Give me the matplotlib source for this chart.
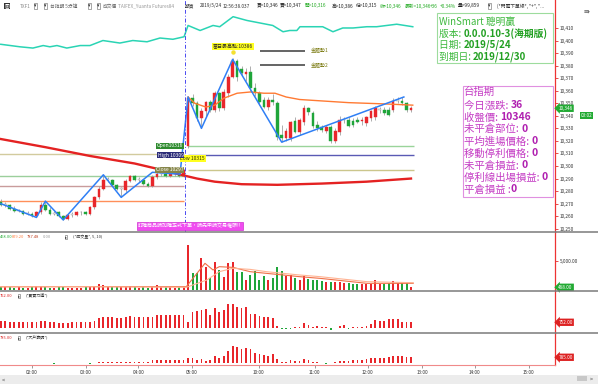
import numpy as np
import matplotlib.pyplot as plt
from matplotlib.lines import Line2D
from matplotlib.patches import Rectangle
from matplotlib.text import Annotation

plt.rcParams['font.family'] = ['Noto Sans CJK TC', 'DejaVu Sans']

W, H = 598, 384

# 5 min bars: night session (p 0-41) then day session 08:45-12:55 (p 42-92)
opens = [10271, 10269, 10269, 10266, 10264, 10264, 10262, 10262, 10260, 10263,
         10269, 10265, 10262, 10263, 10260, 10258, 10261, 10261, 10263, 10263,
         10262, 10267, 10275, 10282, 10289, 10289, 10285, 10282, 10281, 10288,
         10292, 10289, 10289, 10286, 10284, 10291, 10294, 10294, 10292, 10294,
         10294, 10292,
         10316, 10354, 10350, 10338, 10344, 10351, 10345, 10358, 10346, 10358,
         10371, 10384, 10377, 10373, 10375, 10362, 10358, 10353, 10347, 10353,
         10350, 10325, 10322, 10322, 10336, 10327, 10335, 10346, 10342, 10333,
         10331, 10328, 10331, 10320, 10327, 10337, 10337, 10336, 10337, 10336,
         10334, 10338, 10339, 10345, 10345, 10345, 10345, 10352, 10352, 10350,
         10345]
highs = [10274, 10271, 10270, 10268, 10266, 10265, 10264, 10263, 10264, 10271,
         10272, 10267, 10264, 10264, 10261, 10262, 10263, 10264, 10264, 10264,
         10268, 10276, 10284, 10293, 10291, 10290, 10286, 10283, 10290, 10293,
         10293, 10291, 10290, 10287, 10293, 10296, 10296, 10295, 10295, 10295,
         10295, 10298,
         10356, 10357, 10352, 10346, 10352, 10353, 10360, 10359, 10361, 10373,
         10386, 10385, 10380, 10378, 10380, 10366, 10360, 10355, 10355, 10357,
         10352, 10333, 10330, 10336, 10339, 10338, 10349, 10347, 10344, 10336,
         10333, 10333, 10333, 10330, 10340, 10339, 10339, 10338, 10339, 10339,
         10340, 10345, 10348, 10347, 10347, 10347, 10354, 10355, 10355, 10351,
         10348]
lows = [10268, 10267, 10265, 10263, 10263, 10261, 10261, 10259, 10259, 10262,
        10264, 10261, 10261, 10259, 10257, 10257, 10259, 10260, 10261, 10261,
        10261, 10266, 10274, 10281, 10287, 10284, 10281, 10275, 10279, 10287,
        10288, 10287, 10285, 10283, 10283, 10290, 10292, 10291, 10291, 10292,
        10291, 10291,
        10314, 10348, 10336, 10330, 10340, 10343, 10343, 10344, 10345, 10355,
        10370, 10368, 10372, 10368, 10360, 10356, 10349, 10346, 10345, 10349,
        10321, 10319, 10320, 10320, 10326, 10325, 10333, 10341, 10330, 10328,
        10327, 10326, 10318, 10318, 10325, 10334, 10331, 10331, 10334, 10333,
        10332, 10336, 10337, 10342, 10341, 10340, 10343, 10350, 10349, 10343,
        10343]
closes = [10269, 10269, 10266, 10264, 10264, 10262, 10262, 10260, 10263, 10269,
          10265, 10262, 10262, 10260, 10258, 10261, 10261, 10263, 10263, 10262,
          10267, 10275, 10282, 10289, 10289, 10285, 10282, 10282, 10288, 10292,
          10289, 10289, 10286, 10284, 10291, 10294, 10294, 10292, 10294, 10294,
          10292, 10297,
          10354, 10350, 10338, 10344, 10351, 10345, 10358, 10346, 10359, 10371,
          10384, 10371, 10374, 10375, 10362, 10358, 10351, 10347, 10353, 10351,
          10323, 10322, 10328, 10335, 10327, 10337, 10346, 10343, 10332, 10330,
          10329, 10331, 10320, 10328, 10337, 10337, 10332, 10333, 10335, 10337,
          10339, 10344, 10346, 10345, 10342, 10341, 10352, 10352, 10350, 10345,
          10346]

volume = [520, 480, 560, 400, 450, 380, 420, 500, 610, 650,
          560, 430, 380, 450, 520, 400, 380, 360, 420, 450,
          520, 760, 950, 820, 600, 520, 480, 450, 560, 610,
          480, 420, 460, 380, 520, 900, 560, 480, 450, 420,
          520, 600,
          7760, 2900, 2900, 5500, 4020, 2070, 4890, 3450, 2300, 4600,
          4780, 3100, 3100, 1720, 2650, 3250, 1720, 2500, 1720, 2000,
          3960, 3250, 2500, 2650, 2000,
          1720, 2500, 1830, 1720, 1720, 1600, 1400, 1400, 1400, 1400,
          1230, 1230, 1000, 1000, 1000, 1000, 1000, 1720, 1000, 1000,
          1200, 1600, 1230, 1230, 1230, 468]

# 買賣力道
power = [958, 958, 833, 750, 750, 750, 750, 792, 792, 917,
         917, 792, 750, 667, 667, 667, 750, 750, 833, 833,
         833, 917, 1250, 1375, 1375, 1375, 1292, 1292, 1417, 1500,
         1458, 1417, 1417, 1458, 1458, 1625, 1625, 1625, 1625, 1667,
         1667, 1667,
         833, 2083, 2208, 2292, 2375, 1667, 2583, 2083, 2292, 3042,
         3042, 2708, 2500, 2625, 1792, 1792, 1542, 1375, 1375, 1250,
         292, -100, -120, -60, 208,
         208, 625, 417, 208, 292, 208, 208, -208, 83, 292,
         417, -100, 208, 208, 208, 292, 500, 1042, 917, 917,
         1125, 1167, 1125, 833, 833, 752]

# 大戶籌碼
big_hands = [90, 90, 80, 90, 90, 80, 90, 90, 80, 90,
             90, 80, -60, 80, 90, 90, 80, 90, 90, 80,
             -60, 90, 217, 217, 217, 217, 217, 217, 217, 217,
             217, 217, 217, 217, 433, 433, 433, 433, 433, 433,
             433, 433,
             737, 737, 433, 520, 303, 433, 953, 650, 953, 1647,
             2253, 2167, 1820, 1950, 1820, 1387, 1213, 1083, 953, 1213,
             520, 130, 217, 433, 303,
             303, 563, 433, 217, 130, 87, -87, 30, 217, 347,
             347, 347, 433, 433, 433, 520, 650, 737, 737, 737,
             867, 953, 953, 953, 867, 785]

zigzag_x = [0, 8, 10, 14, 23, 27, 34, 40.2, 42, 45, 52, 63, 90.4]
zigzag_y = [10270, 10259, 10272, 10257, 10293, 10275, 10295, 10293.5,
            10355, 10330, 10385, 10319, 10355]

ma_long_x = [0, 10, 20, 30, 36, 41, 44, 48, 54, 62, 72, 82, 92]
ma_long_y = [10321.5, 10315, 10308, 10302, 10297, 10292.5, 10290, 10287.5,
             10285.5, 10285, 10286, 10287.5, 10290]

ma_day_x = [42, 43.5, 46, 48, 50, 53, 56, 59, 61.5, 64, 67, 78, 86, 92.4]
ma_day_y = [10355, 10350, 10347, 10348.5, 10354, 10358, 10359, 10358, 10358,
            10355, 10353, 10350.5, 10349.5, 10348.5]

cyan_x = [0, 4.3, 7.2, 9.5, 11, 12.6, 14.8, 17.8, 20, 22.9, 26.7, 29.6, 32.8,
          35.7, 38.6, 41.1, 42, 44.7, 47.6, 49.1, 52.1, 55.2, 58.1, 61, 63.3,
          64.8, 66.4, 67.1, 70, 72.2, 74.5, 76.7, 79, 82.1, 84.3, 88.8, 92.4]
cyan_y = [10397, 10395, 10394, 10396, 10395, 10396, 10394, 10396, 10396, 10400,
          10398, 10400, 10399, 10402, 10401, 10403, 10412, 10408, 10412, 10411,
          10419, 10416, 10414, 10412, 10407, 10408, 10408, 10411, 10411, 10411,
          10407, 10410, 10410, 10411, 10411, 10413, 10411]

vol_ma5_x = [0, 20, 41.6, 45.8, 47.6, 49, 52.1, 55.9, 59.6, 63.3, 67, 71.6, 82.1, 92.5]
vol_ma5_y = [560, 580, 575, 4600, 3450, 4020, 3900, 3160, 2870, 2590, 2300, 2010, 1150, 1150]
vol_ma10_x = [0, 20, 41.6, 46.2, 49, 52, 55.9, 59.6, 63.3, 67, 71.6, 82.1, 92.5]
vol_ma10_y = [540, 560, 460, 1720, 3160, 3740, 3560, 3160, 2870, 2590, 2300, 1440, 1260]

night_levels = [10309.5, 10292, 10284, 10272]
night_colors = ['#d2cb9e', '#9ccf9c', '#c99c9c', '#ff8f5a']
day_levels = [10316, 10309, 10297]
day_colors = ['#9ad49a', '#5a5ab4', '#cbc68c']

trend_levels = [10392, 10380.5]
trend_names = ['金趨勢1', '金趨勢2']

time_ticks = [7, 19, 30.8, 42.9, 57.9, 70.4, 82.3, 94.5, 106.3, 118.4]
time_labels = ['02:00', '03:00', '04:00', '05:00', '10:00', '11:00',
               '12:00', '13:00', '14:00', '15:00']
price_ticks = list(range(10250, 10411, 10))

RED = '#e8262b'
GREEN = '#1fa53a'


def rect(x0, y0, x1, y1):
    return [x0 / W, 1 - y1 / H, (x1 - x0) / W, (y1 - y0) / H]


def fx(x):
    return x / W


def fy(y):
    return 1 - y / H


fig = plt.figure(figsize=(W / 100, H / 100), dpi=100)
ax = fig.add_axes(rect(0, 0, 555, 232))
axv = fig.add_axes(rect(0, 232, 555, 291), sharex=ax)
ax2 = fig.add_axes(rect(0, 291, 555, 333), sharex=ax)
ax3 = fig.add_axes(rect(0, 333, 555, 365), sharex=ax)

for a in (ax, axv, ax2, ax3):
    for s in ('top', 'left', 'bottom'):
        a.spines[s].set_visible(False)
    a.spines['right'].set_color('#ee3333')
    a.spines['right'].set_linewidth(0.9)
    a.yaxis.tick_right()
    a.tick_params(axis='y', length=2, width=0.6, color='#e03030',
                  labelsize=3.4, pad=1.5, labelcolor='#333333')
    a.tick_params(axis='x', bottom=False, labelbottom=False)

ax.set_xlim(-0.18, 124.3)
ax.set_ylim(10247.4, 10432.3)
ax.set_yticks(price_ticks)
ax.set_yticklabels([f'{v:,}' for v in price_ticks])

x = np.arange(len(opens))
o, h, l, c = (np.array(v, dtype=float) for v in (opens, highs, lows, closes))
face = np.where(c > o, RED, np.where(c < o, GREEN, '#ffffff'))
edge = np.where(c > o, RED, np.where(c < o, GREEN, '#a0a0a0'))

# price panel
ax.plot(cyan_x, cyan_y, color='#2ad4b4', lw=1.1, zorder=3)
ax.hlines(night_levels, -0.5, 41, colors=night_colors, lw=1.0, zorder=2)
ax.hlines(day_levels, 42, 92.6, colors=day_colors, lw=1.0, zorder=2)
ax.vlines(x, l, h, color='#a0a0a0', lw=0.6, zorder=3)
ax.bar(x, np.maximum(np.abs(c - o), 0.6), bottom=np.minimum(o, c), width=0.6,
       color=face, edgecolor=edge, linewidth=0.3, zorder=4)
ax.plot(ma_long_x, ma_long_y, color='#e42222', lw=1.7, zorder=5)
ax.plot(ma_day_x, ma_day_y, color='#ff7a33', lw=1.0, zorder=5)
ax.plot(zigzag_x, zigzag_y, color='#2f7ff5', lw=1.1, zorder=6)
ax.axvline(41.3, color='#4a4af0', lw=0.7, ls=(0, (4, 2, 1, 2)), zorder=6)

lab = dict(fontsize=3.6, va='center', zorder=8)
ax.text(40.3, 10305.8, 'Low 10315', ha='left', color='#333300',
        bbox=dict(boxstyle='square,pad=0.15', fc='#ffff20', ec='none'), **lab)
ax.text(41, 10316, 'Open10316', ha='right', color='white',
        bbox=dict(boxstyle='square,pad=0.15', fc='#2e8b2e', ec='none'), **lab)
ax.text(41, 10308.6, 'High 10309', ha='right', color='white',
        bbox=dict(boxstyle='square,pad=0.15', fc='#2c2c78', ec='none'), **lab)
ax.text(41, 10297, 'Close 10297', ha='right', color='white',
        bbox=dict(boxstyle='square,pad=0.15', fc='#86864a', ec='none'), **lab)

ax.text(52, 10395.5, '當日最高點:10386', ha='center', color='#222222',
        bbox=dict(boxstyle='square,pad=0.15', fc='#ffff20', ec='none'), **lab)
ax.plot(52, 10390.5, 'o', color='#f4e030', ms=2.2, zorder=7)
ax.hlines(trend_levels, 58.2, 68.2, color='#4a4a4a', lw=1.2, zorder=6)
for lv, name in zip(trend_levels, trend_names):
    ax.text(69.5, lv, name, ha='left', color='#7a7a10', **lab)

ax.text(42.4, 10252.2, '訂購商品請加購正式下單，請先申請交易權限!!', ha='center',
        color='white', bbox=dict(boxstyle='square,pad=0.2', fc='#f04cf0', ec='#d030d0', lw=0.5),
        **lab)

tag = dict(fontsize=3.4, va='center', ha='left', color='white', clip_on=False, zorder=9)
ax.text(1.006, 10346, '10,346', transform=ax.get_yaxis_transform(),
        bbox=dict(boxstyle='larrow,pad=0.25', fc='#22aa33', ec='none'), **tag)
ax.text(1.046, 10340, '03:02', transform=ax.get_yaxis_transform(),
        bbox=dict(boxstyle='square,pad=0.2', fc='#22aa33', ec='none'), **tag)

# volume panel
vcol = np.where(c >= o, RED, GREEN)
axv.bar(x, volume, width=0.45, color=vcol, zorder=3)
axv.plot(vol_ma5_x, vol_ma5_y, color='#f07048', lw=0.8, zorder=4)
axv.plot(vol_ma10_x, vol_ma10_y, color='#ffb494', lw=0.8, zorder=4)
axv.set_ylim(-172, 10000)
axv.set_yticks([5000])
axv.set_yticklabels(['5,000.00'])
axv.text(1.006, 468, '468.00', transform=axv.get_yaxis_transform(),
         bbox=dict(boxstyle='larrow,pad=0.25', fc='#22aa33', ec='none'), **tag)

# 買賣力道 panel
pw = np.array(power)
ax2.bar(x, pw, width=0.4, color=np.where(pw >= 0, RED, GREEN), zorder=3)
ax2.set_ylim(-590, 4667)
ax2.set_yticks([])
ax2.text(1.006, 752, '752.00', transform=ax2.get_yaxis_transform(),
         bbox=dict(boxstyle='larrow,pad=0.25', fc='#dd2222', ec='none'), **tag)

# 大戶籌碼 panel
bh = np.array(big_hands)
ax3.bar(x, bh, width=0.4, color=np.where(bh >= 0, RED, GREEN), zorder=3)
ax3.set_ylim(-220, 3943)
ax3.set_yticks([])
ax3.spines['bottom'].set_visible(True)
ax3.spines['bottom'].set_color('#f08a8a')
ax3.set_xticks(time_ticks)
ax3.set_xticklabels(time_labels)
ax3.tick_params(axis='x', bottom=True, labelbottom=True, length=2, width=0.6,
                color='#888888', labelsize=3.4, pad=1.5, labelcolor='#333333')
ax3.text(1.006, 785, '785.00', transform=ax3.get_yaxis_transform(),
         bbox=dict(boxstyle='larrow,pad=0.25', fc='#dd2222', ec='none'), **tag)

# panel separators and bottom scroll strip
for yy in (232, 291, 333):
    fig.add_artist(Line2D([0, 1], [fy(yy), fy(yy)], transform=fig.transFigure,
                          color='#7a7a7a', lw=1.1))
fig.add_artist(Rectangle((0, 0), 1, (H - 375) / H, transform=fig.transFigure,
                         fc='#ececec', ec='none'))
fig.text(fx(2), fy(380), '<', fontsize=4, va='center', color='#444444')
fig.add_artist(Rectangle((fx(577), fy(381)), 10 / W, 5 / H, transform=fig.transFigure,
                         fc='#c8c8c8', ec='none'))
fig.text(fx(590), fy(379), '>', fontsize=4, va='center', color='#444444')

# panel captions
small = dict(fontsize=3.4, va='center')
cap = dict(fontsize=2.9, va='center')
for xp, txt, colr in [(0, '468.00', '#22aa33'), (12, '879.20', '#ff8040'),
                      (27, '787.48', '#c04020'), (43, '0.00', '#999999'),
                      (73, '(*成交量*, 5, 10)', '#333333')]:
    fig.text(fx(xp), fy(237), txt, color=colr, **cap)
for yy, val, name in [(296, '752.00', '(*買賣力道*)'), (338, '785.00', '(*大戶籌碼*)')]:
    fig.text(fx(0), fy(yy), val, color='#dd2222', **cap)
    fig.text(fx(26), fy(yy), name, color='#333333', **cap)
for xp, yy in [(65, 237), (18, 296), (18, 338)]:
    fig.text(fx(xp), fy(yy), '▸', color='#333333',
             bbox=dict(boxstyle='square,pad=0.1', fc='white', ec='#666666', lw=0.4),
             **cap)

# title strip
fig.text(fx(5), fy(6), '圖', color='white',
         bbox=dict(boxstyle='square,pad=0.15', fc='#333333', ec='none'), **small)
title_parts = [(20, 'TXF1', '#888888'), (50, '台指期 5分鐘', '#666666'),
               (103, '成交價', '#666666'), (118, 'TAIFEX_Yuanta Futures84', '#999999'),
               (185, '期貨', '#333333'), (200, '2019/5/24', '#333333'),
               (223, '12:56:38.037', '#333333'), (257, '買=10,346', '#222222'),
               (280, '賣=10,347', '#222222'), (305, '開=10,316', '#22aa22'),
               (332, '高=10,386', '#222222'), (356, '低=10,315', '#222222'),
               (380, '收=10,346', '#22aa22'), (405, '最新=10,346', '#22aa22'),
               (430, '+36', '#22aa22'), (440, '+0.34%', '#22aa22'),
               (458, '量=99,859', '#222222'), (497, '(*閃電下單線*, "+", "...', '#333333')]
for xp, txt, colr in title_parts:
    fig.text(fx(xp), fy(6), txt, color=colr, **small)
for xp in (34, 44, 88, 97, 488):
    fig.text(fx(xp), fy(6), '▾', color='#333333',
             bbox=dict(boxstyle='square,pad=0.05', fc='white', ec='#666666', lw=0.4),
             **small)
fig.text(fx(584), fy(12), '⇛', color='#444444', fontsize=5, va='center')

# info boxes
fig.add_artist(Rectangle((fx(437), fy(63)), 116 / W, 50 / H, transform=fig.transFigure,
                         fc='white', ec='#9ddc9d', lw=0.8))
fig.add_artist(Rectangle((fx(463), fy(197)), 90 / W, 111 / H, transform=fig.transFigure,
                         fc='white', ec='#e090e0', lw=0.8))

win_lines = [('WinSmart 聰明贏', ''), ('版本: ', '0.0.0.10-3(海期版)'),
             ('日期: ', '2019/5/24'), ('到期日: ', '2019/12/30')]
win_y = [22, 33.5, 45, 56.7]
info_lines = [('台指期', ''), ('今日漲跌: ', '36'), ('收盤價: ', '10346'),
              ('未平倉部位: ', '0'), ('平均進場價格: ', '0'), ('移動停利價格: ', '0'),
              ('未平倉損益: ', '0'), ('停利線出場損益: ', '0'), ('平倉損益 :', '0')]
info_y = [92, 105.5, 117.5, 129.5, 141.5, 153.5, 165.5, 177.5, 189.5]


def two_part(xp, yp, label, value, c1, c2, size):
    t = fig.text(fx(xp), fy(yp), label, color=c1, fontsize=size, va='center')
    if value:
        fig.add_artist(Annotation(value, xy=(1, 0.5), xycoords=t, va='center',
                                  ha='left', color=c2, fontsize=size,
                                  fontweight='bold'))


for (lbl, val), yp in zip(win_lines, win_y):
    two_part(439, yp, lbl, val, '#3cb83c', '#22a022', 7.0)
for (lbl, val), yp in zip(info_lines, info_y):
    two_part(464, yp, lbl, val, '#c43cc4', '#b020b0', 7.5)

fig.savefig('out.png', dpi=100)
